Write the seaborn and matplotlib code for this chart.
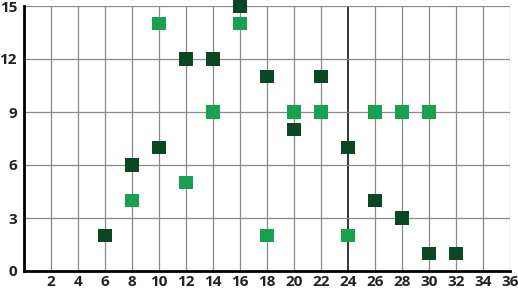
import matplotlib
matplotlib.use("Agg")
import matplotlib.pyplot as plt
import seaborn as sns
import pandas as pd

dark_x = [6, 8, 10, 12, 14, 16, 18, 20, 22, 24, 26, 28, 30, 32]
dark_y = [2, 6, 7, 12, 12, 15, 11, 8, 11, 7, 4, 3, 1, 1]
light_x = [8, 10, 12, 14, 16, 18, 20, 22, 24, 26, 28, 30]
light_y = [4, 14, 5, 9, 14, 2, 9, 9, 2, 9, 9, 9]
x_ticks = list(range(2, 37, 2))
y_ticks = [0, 3, 6, 9, 12, 15]

df = pd.concat([
    pd.DataFrame({"x": dark_x, "y": dark_y, "s": "dark"}),
    pd.DataFrame({"x": light_x, "y": light_y, "s": "light"}),
])

sns.set_style("white")
plt.rcParams['font.family'] = ['Open Sans', 'DejaVu Sans']

fig = plt.figure(figsize=(5.18, 2.94), dpi=100)
ax = fig.add_axes([24/518, 23/294, 486/518, 265/294])

for v in x_ticks:
    ax.axvline(v, color="#000000" if v == 24 else "#8a8a8a",
               lw=1.1 if v == 24 else 0.9, zorder=1)
for v in y_ticks[1:]:
    ax.axhline(v, color="#8a8a8a", lw=0.9, zorder=1)

sns.scatterplot(data=df, x="x", y="y", hue="s", marker="s", s=90,
                palette={"dark": "#0a4722", "light": "#17a04d"},
                edgecolor="none", legend=False, ax=ax, zorder=3, clip_on=False)

ax.set_xlim(0, 36)
ax.set_ylim(0, 15)
ax.set_xticks(x_ticks)
ax.set_yticks(y_ticks)
ax.set_xlabel("")
ax.set_ylabel("")
for side in ["top", "right"]:
    ax.spines[side].set_visible(False)
ax.spines["left"].set_linewidth(2)
ax.spines["bottom"].set_linewidth(2)
ax.spines["left"].set_color("black")
ax.spines["bottom"].set_color("black")
ax.tick_params(axis="both", length=0, labelsize=11, colors="#222222")
ax.tick_params(axis="y", pad=5)
ax.tick_params(axis="x", pad=3)
for lab in ax.get_xticklabels() + ax.get_yticklabels():
    lab.set_fontweight("bold")

fig.savefig("out.png", dpi=100)
